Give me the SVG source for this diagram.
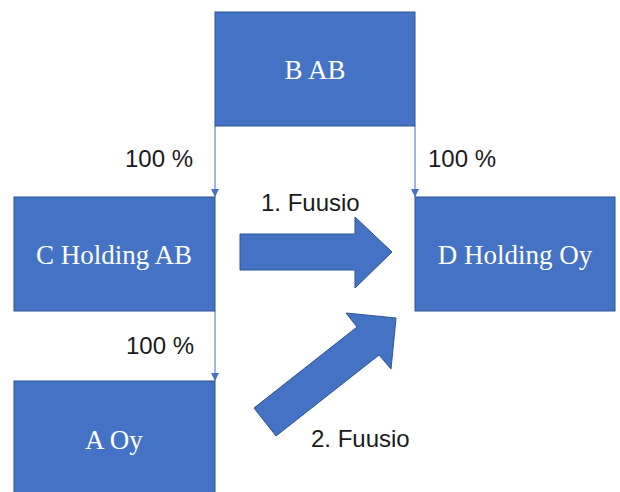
<svg xmlns="http://www.w3.org/2000/svg" width="620" height="492" viewBox="0 0 620 492">
<style>
.box{fill:#4472C4;stroke:#2F528F;stroke-width:1}
.bt{font-family:"Liberation Serif","Times New Roman",serif;font-size:27px;fill:#FFFFFF;text-anchor:middle}
.lbl{font-family:"Liberation Sans",Arial,sans-serif;font-size:24px;fill:#1a1a1a}
.con{stroke:#6A93D8;stroke-width:1.3;fill:none;marker-end:url(#ah)}
.blk{fill:#4472C4;stroke:#2F528F;stroke-width:1}
</style>
<defs>
<marker id="ah" viewBox="0 0 10 10" refX="10" refY="5" markerWidth="8" markerHeight="8" markerUnits="userSpaceOnUse" orient="auto">
<path d="M0,0 L10,5 L0,10 z" fill="#4472C4"/>
</marker>
</defs>
<rect width="620" height="492" fill="#FFFFFF"/>
<g id="connectors">
<line class="con" x1="215" y1="126" x2="215" y2="197"/>
<line class="con" x1="415" y1="126" x2="415" y2="197"/>
<line class="con" x1="215" y1="311" x2="215" y2="381"/>
<polygon id="fuusio1" class="blk" points="240,234 355,234 355,217 392,252 355,288 355,270 240,270"/>
<polygon id="fuusio2" class="blk" points="254,408 357,327 346,313 396,318 391,369 379,355 276,436"/>
</g>
<g id="node-b">
<rect class="box" x="215" y="12" width="200" height="114"/>
<text class="bt" x="315" y="79">B AB</text>
</g>
<g id="node-c">
<rect class="box" x="14" y="197" width="201" height="114"/>
<text class="bt" x="114" y="264">C Holding AB</text>
</g>
<g id="node-d">
<rect class="box" x="415" y="197" width="200" height="114"/>
<text class="bt" x="515" y="264">D Holding Oy</text>
</g>
<g id="node-a">
<rect class="box" x="14" y="381" width="201" height="116"/>
<text class="bt" x="114" y="449">A Oy</text>
</g>
<g id="labels">
<text class="lbl" x="125" y="167">100 %</text>
<text class="lbl" x="428" y="167">100 %</text>
<text class="lbl" x="126" y="354">100 %</text>
<text class="lbl" x="261" y="211">1. Fuusio</text>
<text class="lbl" x="311" y="447">2. Fuusio</text>
</g>
</svg>
